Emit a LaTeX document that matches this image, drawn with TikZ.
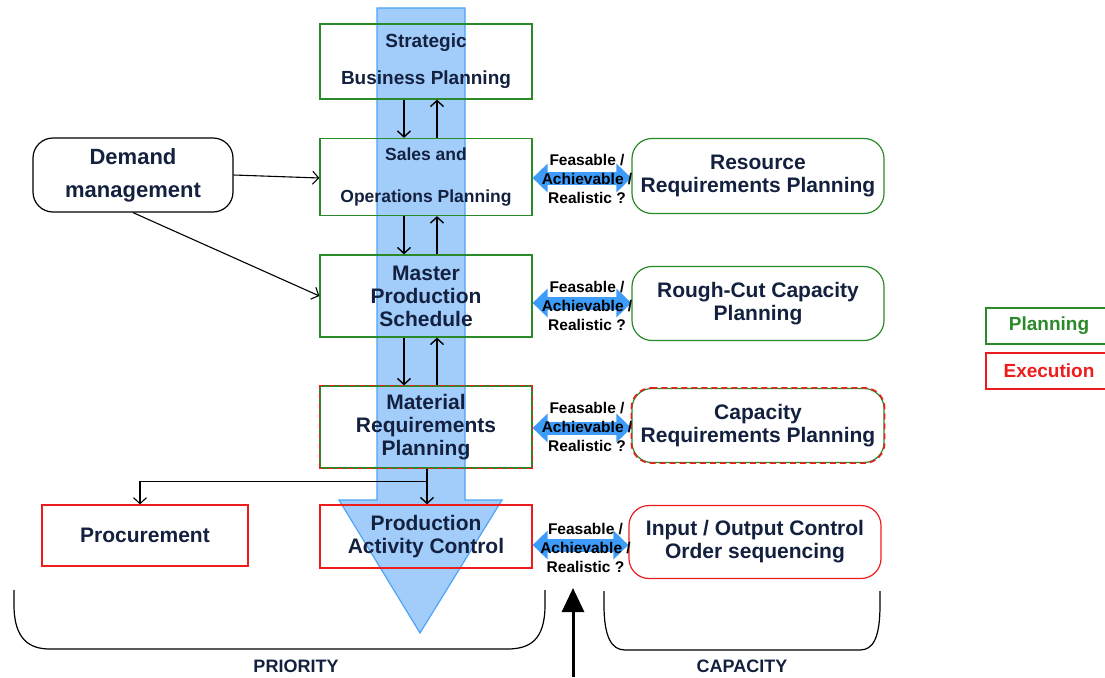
\documentclass[tikz,border=0pt]{standalone}
\usepackage{fontspec}
\setmainfont{Liberation Sans}
\usetikzlibrary{arrows.meta,calc}
\definecolor{navy}{HTML}{13213F}
\definecolor{pgreen}{HTML}{2A8A2A}
\definecolor{ered}{HTML}{EE1C1C}
\definecolor{flowfill}{HTML}{A2CDFB}
\definecolor{flowedge}{HTML}{4FA3F7}
\definecolor{dblue}{HTML}{3D9BFA}
\tikzset{
  box/.style={draw, minimum width=212pt, inner sep=0pt, text=navy, align=center,
    line width=1.2pt, font=\bfseries\fontsize{21}{23}\selectfont},
  plan/.style={box, draw=pgreen},
  exec/.style={box, draw=ered},
  rbox/.style={rounded corners=20pt, fill=white, minimum width=252pt},
  mixdash/.style={ered, line width=1.6pt, dash pattern=on 6pt off 4pt},
  conn/.style={line width=1.4pt, -{Straight Barb[length=6pt,width=13pt]}},
  thinconn/.style={line width=1.1pt, -{Straight Barb[length=6pt,width=13pt]}},
  dbl/.style={dblue, line width=13pt, {Triangle[length=15pt,width=28pt]}-{Triangle[length=15pt,width=28pt]}},
  lbl/.style={align=center, inner sep=0pt, font=\bfseries\fontsize{15.5}{19}\selectfont},
  legend/.style={draw, line width=1.2pt, minimum width=126pt, minimum height=36pt, inner sep=0pt,
    font=\bfseries\fontsize{19}{21}\selectfont},
  bottomlbl/.style={text=navy, font=\bfseries\fontsize{18}{20}\selectfont}
}
\begin{document}
\begin{tikzpicture}[x=1pt,y=-1pt]
\useasboundingbox (0,0) rectangle (1105,677);

% big flow arrow
\filldraw[fill=flowfill, draw=flowedge, line width=1.2pt]
  (377,8) -- (465,8) -- (465,500) -- (502,500) -- (420,633) -- (339,500) -- (377,500) -- cycle;

% left column
\node[plan, minimum height=75pt, font=\bfseries\fontsize{19}{37}\selectfont] (sbp) at (426,61.5) {Strategic\\Business Planning};
\node[plan, minimum height=77pt, font=\bfseries\fontsize{17.5}{42}\selectfont] (sop) at (426,177) {Sales and\\Operations Planning};
\node[plan, minimum height=82pt] (mps) at (426,296) {Master\\Production\\Schedule};
\node[plan, minimum height=82pt] (mrp) at (426,427) {Material\\Requirements\\Planning};
\draw[mixdash] (mrp.north west) -- (mrp.north east);
\draw[mixdash] (mrp.north east) -- (mrp.south east);
\draw[mixdash] (mrp.south east) -- (mrp.south west);
\draw[mixdash] (mrp.south west) -- (mrp.north west);
\node[exec, minimum height=63pt] (pac) at (426,536.5) {Production\\Activity Control};
\node[exec, minimum width=206pt, minimum height=61pt] (proc) at (145,535.5) {Procurement};
\node[box, draw=black, rounded corners=20pt, minimum width=200pt, minimum height=74pt,
  font=\bfseries\fontsize{22}{33}\selectfont] (dm) at (133,175) {Demand\\management};

% right column
\node[plan, rbox, minimum height=75pt] (rrp) at (758,176) {Resource\\Requirements Planning};
\node[plan, rbox, minimum height=74pt] (rcp) at (758,303.5) {Rough-Cut Capacity\\Planning};
\node[plan, rbox, minimum height=74pt] (crp) at (758,425.5) {Capacity\\Requirements Planning};
\draw[mixdash, rounded corners=20pt] (crp.north west) -- (crp.north east) -- (crp.south east) -- (crp.south west) -- cycle;
\node[exec, rbox, minimum height=73pt] (ioc) at (755,542) {Input / Output Control\\Order sequencing};

% legend
\node[legend, draw=pgreen, text=pgreen] (lplan) at (1049,326) {Planning};
\node[legend, draw=ered, text=ered] (lexec) at (1049,371) {Execution};

% vertical feedback arrows
\draw[conn] ([xshift=-22pt]sbp.south) -- ([xshift=-22pt]sop.north);
\draw[conn] ([xshift=11pt]sop.north) -- ([xshift=11pt]sbp.south);
\draw[conn] ([xshift=-22pt]sop.south) -- ([xshift=-22pt]mps.north);
\draw[conn] ([xshift=11pt]mps.north) -- ([xshift=11pt]sop.south);
\draw[conn] ([xshift=-22pt]mps.south) -- ([xshift=-22pt]mrp.north);
\draw[conn] ([xshift=11pt]mrp.north) -- ([xshift=11pt]mps.south);
\draw[conn] ([xshift=1pt]mrp.south) -- ([xshift=1pt]pac.north);
\draw[thinconn] ($([xshift=1pt]mrp.south)!0.36!([xshift=1pt]pac.north)$) -| ([xshift=-5pt]proc.north);

% demand management
\draw[thinconn] (dm.east) -- ($(sop.west)+(0,1)$);
\draw[thinconn] (dm.south) -- (mps.west);

% feasibility double arrows
\draw[dbl] ($(sop.east)+(0,1)$) -- ($(sop.east -| rrp.west)+(0,1)$);
\draw[dbl] ($(mps.east)+(0,7)$) -- ($(mps.east -| rcp.west)+(0,7)$);
\draw[dbl] ($(mrp.east)+(0,1)$) -- ($(mrp.east -| crp.west)+(0,1)$);
\draw[dbl] ($(pac.east)+(0,8.5)$) -- ($(pac.east -| ioc.west)+(0,8.5)$);
\node[lbl] (f1) at ($(sop.east)!0.5!(rrp.west)+(5,2)$) {Feasable /\\Achievable /\\Realistic ?};
\node[lbl] (f2) at ($(mps.east)!0.5!(rcp.west)+(5,6.5)$) {Feasable /\\Achievable /\\Realistic ?};
\node[lbl] (f3) at ($(mrp.east)!0.5!(crp.west)+(5,1)$) {Feasable /\\Achievable /\\Realistic ?};
\node[lbl] (f4) at ($(pac.east)!0.5!(ioc.west)+(5,8.5)$) {Feasable /\\Achievable /\\Realistic ?};

% brackets
\draw[line width=1.2pt] (14,590) -- (14,605) .. controls (14,640) and (30,649) .. (50,649)
  -- (507,649) .. controls (530,649) and (545,640) .. (545,605) -- (545,590);
\draw[line width=1.2pt] (604,591) -- (604,605) .. controls (604,638) and (612,650) .. (625,650)
  -- (860,650) .. controls (873,650) and (880,638) .. (880,605) -- (880,591);
\node[bottomlbl] (prio) at (296,666) {PRIORITY};
\node[bottomlbl] (capa) at (742,666) {CAPACITY};

% bottom arrow
\coordinate (bstart) at (573,677);
\coordinate (bend) at (573,588);
\draw[line width=3pt, -{Triangle[length=24pt,width=22pt]}] (bstart) -- (bend);
\end{tikzpicture}
\end{document}
